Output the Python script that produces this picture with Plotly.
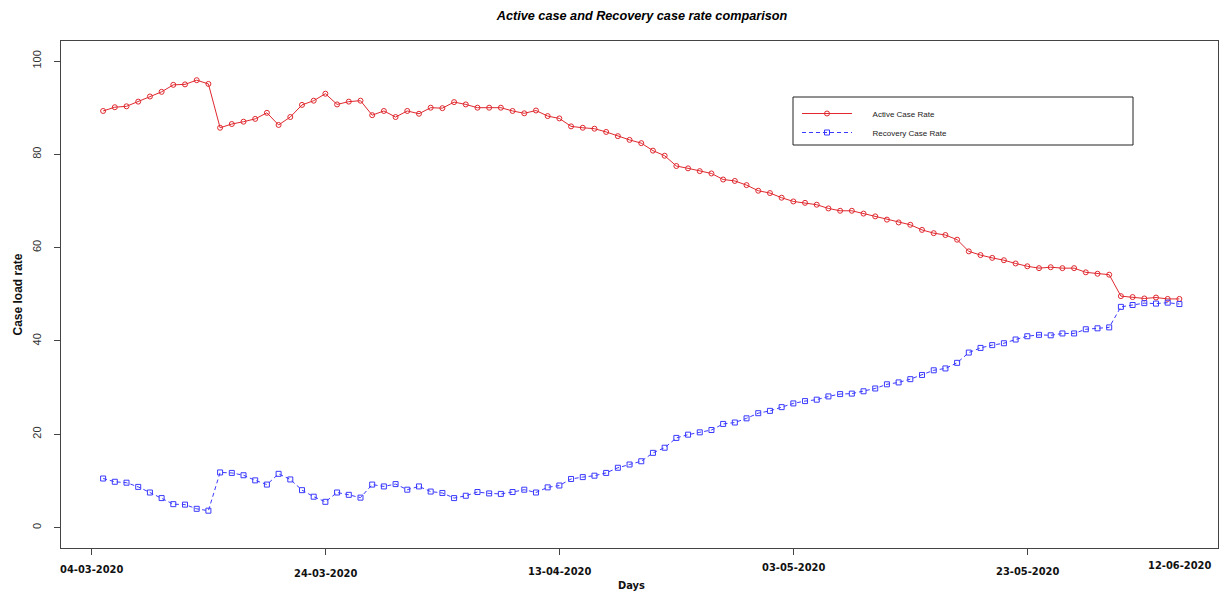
import plotly.graph_objects as go

days = list(range(1, 94))

active_rate = [
    89.3, 90.1, 90.3, 91.3, 92.4, 93.4, 94.9, 95.0, 95.9, 95.1,
    85.7, 86.5, 87.0, 87.6, 88.9, 86.3, 88.0, 90.6, 91.5, 93.0,
    90.7, 91.3, 91.5, 88.4, 89.3, 88.0, 89.3, 88.7, 90.0, 89.9,
    91.2, 90.7, 90.0, 90.0, 90.0, 89.3, 88.8, 89.4, 88.2, 87.7,
    86.0, 85.7, 85.5, 84.8, 83.9, 83.1, 82.4, 80.8, 79.7, 77.5,
    77.0, 76.4, 75.9, 74.6, 74.3, 73.4, 72.2, 71.7, 70.7, 69.9,
    69.6, 69.2, 68.4, 67.9, 67.9, 67.3, 66.7, 66.0, 65.4, 64.9,
    63.8, 63.1, 62.7, 61.7, 59.2, 58.4, 57.8, 57.3, 56.6, 56.0,
    55.6, 55.8, 55.6, 55.6, 54.7, 54.4, 54.2, 49.6, 49.4, 49.1,
    49.3, 49.0, 49.0,
]

recovery_rate = [
    10.5, 9.8, 9.6, 8.7, 7.5, 6.3, 5.0, 4.9, 4.0, 3.6,
    11.8, 11.7, 11.2, 10.1, 9.2, 11.5, 10.3, 8.0, 6.6, 5.5,
    7.5, 7.0, 6.4, 9.2, 8.8, 9.3, 8.1, 8.8, 7.7, 7.4,
    6.3, 6.8, 7.6, 7.3, 7.2, 7.6, 8.1, 7.5, 8.6, 9.0,
    10.4, 10.8, 11.1, 11.7, 12.8, 13.5, 14.2, 16.0, 17.1, 19.2,
    19.9, 20.4, 20.9, 22.2, 22.5, 23.4, 24.5, 25.0, 25.8, 26.6,
    27.1, 27.4, 28.1, 28.6, 28.7, 29.2, 29.8, 30.7, 31.1, 31.8,
    32.7, 33.7, 34.1, 35.3, 37.5, 38.5, 39.1, 39.5, 40.3, 41.0,
    41.3, 41.2, 41.6, 41.6, 42.5, 42.7, 42.9, 47.3, 47.7, 48.1,
    48.0, 48.2, 47.9,
]

series_names = ["Active Case Rate", "Recovery Case Rate"]
tick_days = [0, 20, 40, 60, 80]
date_label_days = [0, 20, 40, 60, 80, 93]
date_labels = ["04-03-2020", "24-03-2020", "13-04-2020", "03-05-2020", "23-05-2020", "12-06-2020"]
date_label_y = [-0.043, -0.050, -0.047, -0.039, -0.047, -0.035]

red = "#e0282e"
blue = "#3a3aff"
font_main = "Liberation Sans, Arial, sans-serif"
font_narrow = "Liberation Sans Narrow, Arial Narrow, DejaVu Sans Condensed, Liberation Sans, sans-serif"
pad = "\u00a0" * 7

fig = go.Figure()
fig.add_trace(go.Scatter(
    x=days, y=active_rate, name=pad + series_names[0], mode="lines+markers",
    line=dict(color=red, width=1),
    marker=dict(symbol="circle-open", size=5, color=red, line=dict(width=1)),
))
fig.add_trace(go.Scatter(
    x=days, y=recovery_rate, name=pad + series_names[1], mode="lines+markers",
    line=dict(color=blue, width=1, dash="4px,3px"),
    marker=dict(symbol="square-open", size=5, color=blue, line=dict(width=1)),
))

W, H = 1220, 592
L, R, T, B = 61, 2, 41, 44

annotations = []
for d, lab, yy in zip(date_label_days, date_labels, date_label_y):
    annotations.append(dict(
        x=d, y=yy, xref="x", yref="paper", text="<b>" + lab + "</b>",
        showarrow=False, xanchor="center", yanchor="middle",
        font=dict(family=font_narrow, size=11, color="#111"),
    ))
annotations.append(dict(
    x=(631 - L) / (W - L - R), y=-(585 - (H - B)) / (H - T - B), xref="paper", yref="paper",
    text="<b>Days</b>", showarrow=False, xanchor="center", yanchor="middle",
    font=dict(family=font_narrow, size=11, color="#111"),
))
annotations.append(dict(
    x=(17 - L) / (W - L - R), y=0.5, xref="paper", yref="paper",
    text="<b>Case load rate</b>", showarrow=False, textangle=-90,
    xanchor="center", yanchor="middle",
    font=dict(family=font_main, size=12, color="#111"),
))

# legend box
lx0, lx1, ly0, ly1 = 793, 1133, 97, 145
shapes = [dict(
    type="rect", xref="paper", yref="paper",
    x0=(lx0 - L) / (W - L - R), x1=(lx1 - L) / (W - L - R),
    y0=((H - B) - ly1) / (H - T - B), y1=((H - B) - ly0) / (H - T - B),
    line=dict(color="#222", width=1), fillcolor="rgba(0,0,0,0)",
)]

fig.update_layout(
    width=W, height=H,
    margin=dict(l=L, r=R, t=T, b=B),
    paper_bgcolor="white", plot_bgcolor="white",
    title=dict(
        text="<b><i>Active case and Recovery case rate comparison</i></b>",
        x=(642) / W, xanchor="center", y=1 - 16 / H, yanchor="middle",
        font=dict(family=font_main, size=12.7, color="#000"),
    ),
    showlegend=True,
    legend=dict(
        x=(797 - L) / (W - L - R), y=((H - B) - 99) / (H - T - B),
        xanchor="left", yanchor="top",
        bgcolor="rgba(0,0,0,0)", borderwidth=0,
        font=dict(family=font_main, size=8, color="#222"),
        itemwidth=50, tracegroupgap=0,
    ),
    annotations=annotations,
    shapes=shapes,
    xaxis=dict(
        range=[-2.6, 96.3], tickvals=tick_days, showticklabels=False,
        ticks="outside", ticklen=6, tickcolor="#444",
        showline=True, linecolor="#444", linewidth=1, mirror=True,
        showgrid=False, zeroline=False,
    ),
    yaxis=dict(
        range=[-4.4, 104.3], tickvals=[0, 20, 40, 60, 80, 100],
        ticks="outside", ticklen=6, tickcolor="#444", tickangle=-90,
        tickfont=dict(family=font_main, size=11, color="#333"),
        ticklabelstandoff=9,
        showline=True, linecolor="#444", linewidth=1, mirror=True,
        showgrid=False, zeroline=False,
    ),
)

fig.write_html(
    "out.html",
    config={"displayModeBar": False},
    post_script="document.body.style.margin='0';document.body.style.overflow='hidden';",
)
